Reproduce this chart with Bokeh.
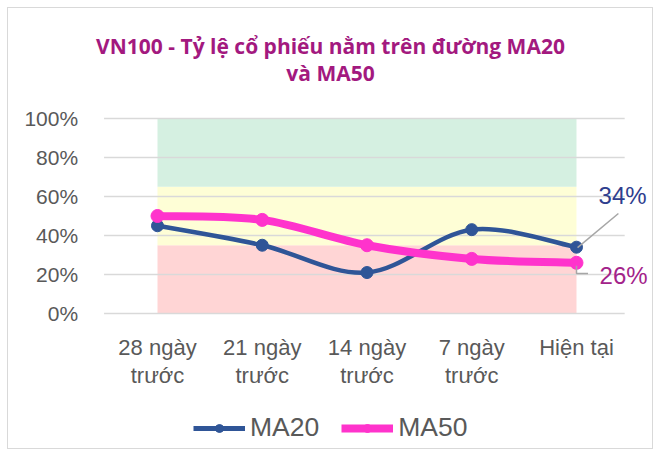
from bokeh.plotting import figure
from bokeh.models import (FixedTicker, NumeralTickFormatter, Label, Legend, LegendItem,
                          Range1d)
from bokeh.embed import file_html
from bokeh.resources import INLINE

categories = ["28 ngày\ntrước", "21 ngày\ntrước", "14 ngày\ntrước", "7 ngày\ntrước", "Hiện tại"]
ma20 = [0.45, 0.35, 0.21, 0.43, 0.34]
ma50 = [0.50, 0.48, 0.35, 0.28, 0.26]
band_bottoms = [0.0, 0.35, 0.65]
band_tops = [0.35, 0.65, 1.0]
band_colors = ["#ffd5d5", "#fefed6", "#d5f0e1"]
y_ticks = [0, 0.2, 0.4, 0.6, 0.8, 1.0]
title_lines = ["VN100 - Tỷ lệ cổ phiếu nằm trên đường MA20", "và MA50"]

C20 = "#2f5597"
C50 = "#ff33cc"
FONT = "Liberation Sans"
TFONT = "Open Sans"

xs = list(range(len(categories)))

p = figure(width=646, height=442, output_backend="svg", toolbar_location=None,
           x_range=Range1d(-1.4224, 4.7447), y_range=Range1d(-0.7026, 1.5641),
           min_border_left=0, min_border_right=0, min_border_top=0,
           min_border_bottom=0)
p.styles = {"border": "1px solid #d9d9d9", "margin": "7px 0 0 7px"}
p.outline_line_color = None
p.background_fill_color = "white"
p.border_fill_color = "white"

# bands
p.quad(left=[xs[0]] * 3, right=[xs[-1]] * 3, bottom=band_bottoms, top=band_tops,
       fill_color=band_colors, line_color=None, level="underlay")

# gridlines
p.xgrid.grid_line_color = None
p.ygrid.grid_line_color = None
p.segment(x0=[-0.51] * len(y_ticks), x1=[4.46] * len(y_ticks), y0=y_ticks, y1=y_ticks,
          line_color="#d9d9d9", line_width=1.5, level="underlay")

p.yaxis.ticker = FixedTicker(ticks=y_ticks)
p.yaxis.formatter = NumeralTickFormatter(format="0%")
p.yaxis.fixed_location = -0.5
p.xaxis.ticker = FixedTicker(ticks=xs)
p.xaxis.major_label_overrides = {i: c for i, c in enumerate(categories)}
p.xaxis.fixed_location = 0
for ax in (p.xaxis, p.yaxis):
    ax.axis_line_color = None
    ax.major_tick_line_color = None
    ax.minor_tick_line_color = None
    ax.major_label_text_font = FONT
    ax.major_label_text_color = "#595959"
p.yaxis.major_label_text_font_size = "21px"
p.xaxis.major_label_text_font_size = "22px"
p.yaxis.major_label_standoff = 21
p.xaxis.major_label_standoff = 16
p.xaxis.major_label_text_line_height = 1.1


def smooth(xv, yv):
    n = len(xv)
    out = {k: [] for k in ("x0", "y0", "x1", "y1", "cx0", "cy0", "cx1", "cy1")}
    for i in range(n - 1):
        a = max(i - 1, 0)
        d = min(i + 2, n - 1)
        out["x0"].append(xv[i]); out["y0"].append(yv[i])
        out["x1"].append(xv[i + 1]); out["y1"].append(yv[i + 1])
        out["cx0"].append(xv[i] + (xv[i + 1] - xv[a]) / 6)
        out["cy0"].append(yv[i] + (yv[i + 1] - yv[a]) / 6)
        out["cx1"].append(xv[i + 1] - (xv[d] - xv[i]) / 6)
        out["cy1"].append(yv[i + 1] - (yv[d] - yv[i]) / 6)
    return out


b20 = smooth(xs, ma20)
b50 = smooth(xs, ma50)
p.bezier(line_color=C20, line_width=4.5, line_cap="round", **b20)
p.scatter(xs, ma20, size=12, color=C20)
p.bezier(line_color=C50, line_width=8, line_cap="round", **b50)
p.scatter(xs, ma50, size=13, color=C50)

# leader lines
p.segment(x0=[xs[-1] + 0.01], y0=[ma20[-1] - 0.002], x1=[xs[-1] + 0.40], y1=[ma20[-1] + 0.173],
          line_color="#a6a6a6", line_width=1.5)
p.line(x=[xs[-1], xs[-1], xs[-1] + 0.11], y=[ma50[-1] - 0.015, ma50[-1] - 0.055, ma50[-1] - 0.055],
       line_color="#a6a6a6", line_width=1.5)

p.add_layout(Label(x=xs[-1] + 0.44, y=ma20[-1] + 0.266, text=f"{round(ma20[-1]*100)}%",
                   text_font=FONT, text_font_size="24px", text_color="#2e3e8e",
                   text_align="center", text_baseline="middle"))
p.add_layout(Label(x=xs[-1] + 0.45, y=ma50[-1] - 0.065, text=f"{round(ma50[-1]*100)}%",
                   text_font=FONT, text_font_size="24px", text_color="#a3238a",
                   text_align="center", text_baseline="middle"))

# title
for line, ty in zip(title_lines, [1.374, 1.231]):
    p.add_layout(Label(x=1.6516, y=ty, text=line, text_font=TFONT,
                       text_font_style="bold", text_font_size="21px", text_color="#a3197f",
                       text_align="center", text_baseline="middle"))

# legend (glyph renderers with points outside the visible range)
l20 = p.line(x=[-9, -8], y=[-9, -9], line_color=C20, line_width=5)
s20 = p.scatter(x=[-9], y=[-9], size=11, color=C20)
l50 = p.line(x=[-9, -8], y=[-9, -9], line_color=C50, line_width=8)
s50 = p.scatter(x=[-9], y=[-9], size=12, color=C50)
legend = Legend(items=[LegendItem(label="MA20", renderers=[l20, s20]),
                       LegendItem(label="MA50", renderers=[l50, s50])],
                orientation="horizontal", location=(185, 7),
                label_text_font=FONT, label_text_font_size="26.5px",
                label_text_color="#595959", glyph_width=52, glyph_height=20,
                label_standoff=5, spacing=22, border_line_color=None,
                background_fill_alpha=0)
p.add_layout(legend, "center")

open("out.html", "w").write(file_html(p, INLINE))
